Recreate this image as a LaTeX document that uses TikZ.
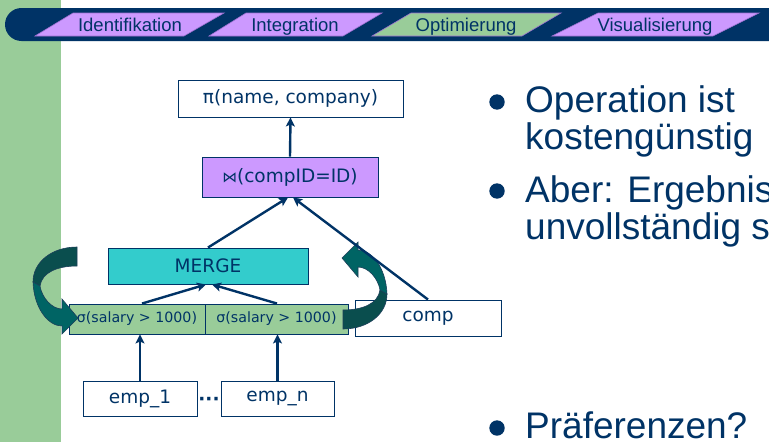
\documentclass[tikz,border=0pt]{standalone}
\usepackage{fontspec}
\setmainfont{Liberation Sans}
\newfontfamily\dejavu{DejaVu Sans}
\usetikzlibrary{arrows.meta}

\definecolor{navy}{HTML}{003366}
\definecolor{sidegreen}{HTML}{99CC99}
\definecolor{tabpurple}{HTML}{CC99FF}
\definecolor{tabgreen}{HTML}{99CC99}
\definecolor{tabedge}{HTML}{9C6FCF}
\definecolor{mergecyan}{HTML}{33CCCC}
\definecolor{selgreen}{HTML}{99CC99}
\definecolor{teallight}{HTML}{006464}
\definecolor{tealdark}{HTML}{0A4E4E}
\definecolor{tealline}{HTML}{1D3F5A}

\tikzset{
  tab/.style={draw=tabedge, line width=0.6pt},
  tablabel/.style={anchor=base, inner sep=0, text=navy,
    font=\fontsize{18.5}{20}\selectfont},
  opbox/.style={draw=navy, line width=0.9pt, inner sep=0, text=navy,
    font=\dejavu\fontsize{18.5}{22}\selectfont},
  selbox/.style={opbox, fill=selgreen, minimum height=30pt,
    font=\dejavu\fontsize{14.2}{17}\selectfont},
  relbox/.style={opbox, fill=white, minimum height=35pt},
  flow/.style={draw=navy, line width=2.4pt,
    -{Stealth[length=9pt,width=9pt,inset=2pt]}},
  tailpart/.style={fill=tealdark, draw=tealline, line width=0.6pt},
  headpart/.style={fill=teallight, draw=tealline, line width=0.6pt},
  bullettext/.style={anchor=base west, inner sep=0, text=navy,
    font=\fontsize{37}{40}\selectfont},
  bulletdot/.style={fill=navy},
}

% U-turn block arrow: tail at the upper right, head at the bottom pointing right
\newcommand\uturnblock{%
  \path[tailpart] (77,247) .. controls (52,247) and (33,262) .. (33,282)
    -- (40,286) .. controls (42,272) and (58,266) .. (77,266) -- cycle;
  \path[headpart] (33,282) .. controls (34,308) and (48,326) .. (62,326)
    -- (62,334) -- (78,318) -- (62,299) -- (62,309)
    .. controls (52,309) and (42,298) .. (40,286) -- cycle;
}

\begin{document}
\begin{tikzpicture}[x=1pt,y=-1pt]
\useasboundingbox (0,0) rectangle (769,442);
\clip (0,0) rectangle (769,442);
\fill[white] (0,0) rectangle (769,442);

% side bar and navigation band
\fill[sidegreen] (0,0) rectangle (61,442);
\fill[navy, rounded corners=16.5pt] (5,8) rectangle (800,41);

\filldraw[tab, fill=tabpurple] (35,36) -- (73,13) -- (224,13) -- (184,36) -- cycle;
\filldraw[tab, fill=tabpurple] (209,36) -- (246,13) -- (382,13) -- (343,36) -- cycle;
\filldraw[tab, fill=tabgreen]  (372,36) -- (411,13) -- (561,13) -- (522,36) -- cycle;
\filldraw[tab, fill=tabpurple] (552,36) -- (598,13) -- (759,13) -- (713,36) -- cycle;
\node[tablabel] (t1) at (130,31.7) {Identifikation};
\node[tablabel] (t2) at (295,31.7) {Integration};
\node[tablabel] (t3) at (466,31.7) {Optimierung};
\node[tablabel] (t4) at (655,31.7) {Visualisierung};

% operator tree
\node[opbox, fill=white, minimum width=225pt, minimum height=37pt]
  (proj) at (290.5,98.5) {π(name, company)};
\node[opbox, fill=tabpurple, minimum width=176pt, minimum height=40pt]
  (join) at (290,177) {\scalebox{0.8}{⋈}(compID=ID)};
\node[opbox, fill=mergecyan, minimum width=200pt, minimum height=36pt]
  (merge) at (208,266) {MERGE};
\node[selbox, minimum width=136pt] (sel1) at (137,319) {σ(salary > 1000)};
\node[selbox, minimum width=143pt] (sel2) at (276.5,319) {σ(salary > 1000)};
\node[relbox, minimum width=146pt, minimum height=36pt] (comp) at (428,318) {comp};
\node[relbox, minimum width=114pt] (emp1) at (140,398.5) {emp\_1};
\node[relbox, minimum width=113pt] (empn) at (277.5,398.5) {emp\_n};
\node[anchor=base, inner sep=0, text=navy,
  font=\dejavu\bfseries\fontsize{18.5}{20}\selectfont] (dots) at (209,405) {···};

% block arrows moving the selection
\uturnblock
\begin{scope}[shift={(420,576)}, rotate=180]
  \uturnblock
\end{scope}

% data flow
\draw[flow] (join.north) -- (proj.south);
\draw[flow] (merge.north) -- ([xshift=-2pt]join.south);
\draw[flow] ([xshift=0pt]comp.north) -- ([xshift=3pt]join.south);
\draw[flow] ([xshift=5pt]sel1.north) -- ([xshift=-2pt]merge.south);
\draw[flow] ([xshift=0.5pt]sel2.north) -- ([xshift=4pt]merge.south);
\draw[flow] (emp1.north) -- (emp1.north |- sel1.south);
\draw[flow] (empn.north) -- (empn.north |- sel2.south);

% bullet list
\fill[bulletdot] (497,102) circle (7.7pt);
\node[bullettext] (b1a) at (525,112) {Operation ist};
\node[bullettext] (b1b) at (525,149) {kostengünstig};
\fill[bulletdot] (497,191) circle (7.7pt);
\node[bullettext] (b2a) at (525,202) {Aber: Ergebnis};
\node[bullettext] (b2b) at (525,239) {unvollständig s};
\fill[bulletdot] (497,428) circle (7.7pt);
\node[bullettext] (b3) at (525,438) {Präferenzen?};
\end{tikzpicture}
\end{document}
